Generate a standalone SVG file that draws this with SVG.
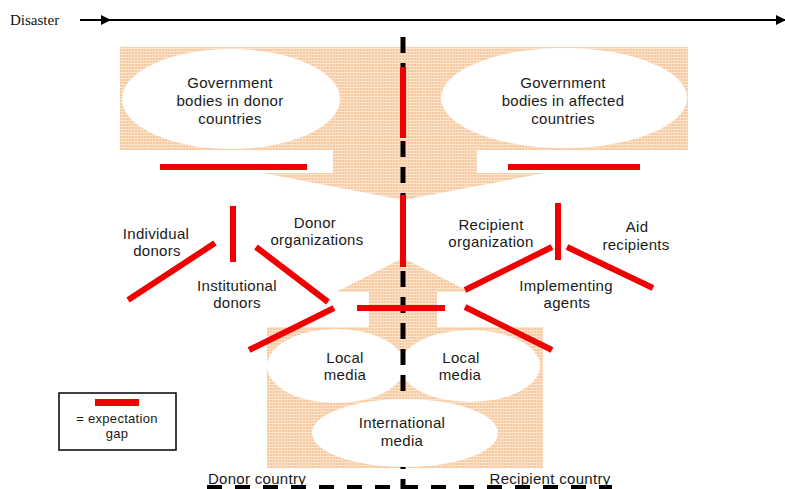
<svg xmlns="http://www.w3.org/2000/svg" width="785" height="489" viewBox="0 0 785 489">
<defs>
<pattern id="dots" width="3" height="3" patternUnits="userSpaceOnUse">
<rect width="3" height="3" fill="#f7c9a0"/>
<rect width="3" height="1" fill="#fde8d4"/>
<rect x="2" width="1" height="3" fill="#fbdcbf"/>
</pattern>
<marker id="arr" markerWidth="10" markerHeight="10" refX="9" refY="5" orient="auto" markerUnits="userSpaceOnUse">
<path d="M0,0 L10,5 L0,10 Z" fill="#000"/>
</marker>
<style>
.lbl{font-family:"Liberation Sans",Arial,sans-serif;font-size:15px;fill:#1a1a1a;text-anchor:middle;letter-spacing:0.3px}
.gap{stroke:#f00000;stroke-width:6;fill:none}
.bg{fill:url(#dots)}
.hole{fill:#fff}
</style>
</defs>
<rect width="785" height="489" fill="#fff"/>

<!-- timeline -->
<g id="timeline">
<text x="10" y="25" font-family="Liberation Serif,Times New Roman,serif" font-size="15" fill="#111">Disaster</text>
<line x1="80" y1="20" x2="110" y2="20" stroke="#000" stroke-width="2" marker-end="url(#arr)"/>
<line x1="108" y1="20" x2="785" y2="20" stroke="#000" stroke-width="2" marker-end="url(#arr)"/>
</g>

<!-- orange backgrounds -->
<g id="areas">
<path class="bg" d="M120,47 H688 V150 H477 V173 H545 L403,200 L263,173 H333 V150 H120 Z"/>
<path class="bg" d="M403,258 L470,292 H437 V327 H543 V468 H267 V327 H369 V292 H336 Z"/>
</g>

<g id="gov-donor">
<ellipse class="hole" cx="231" cy="99" rx="109" ry="50"/>
<text class="lbl" x="230" y="88">Government</text>
<text class="lbl" x="230" y="106">bodies in donor</text>
<text class="lbl" x="230" y="124">countries</text>
</g>
<g id="gov-affected">
<ellipse class="hole" cx="564" cy="98" rx="123" ry="50"/>
<text class="lbl" x="563" y="88">Government</text>
<text class="lbl" x="563" y="106">bodies in affected</text>
<text class="lbl" x="563" y="124">countries</text>
</g>
<g id="local-media-donor">
<ellipse class="hole" cx="336" cy="366" rx="69" ry="37"/>
</g>
<g id="local-media-recipient">
<ellipse class="hole" cx="470" cy="366" rx="70" ry="36"/>
</g>

<!-- dashed dividers -->
<g id="dividers" stroke="#000" fill="none">
<line x1="403" y1="37" x2="403" y2="489" stroke-width="5" stroke-dasharray="16 10"/>
<line x1="207" y1="487" x2="612" y2="487" stroke-width="4" stroke-dasharray="15 13"/>
</g>

<g id="local-media-labels">
<text class="lbl" x="345" y="363">Local</text>
<text class="lbl" x="345" y="380">media</text>
<text class="lbl" x="461" y="363">Local</text>
<text class="lbl" x="460" y="380">media</text>
</g>

<g id="international-media">
<ellipse class="hole" cx="405" cy="433" rx="93" ry="34"/>
<text class="lbl" x="402" y="428">International</text>
<text class="lbl" x="402" y="446">media</text>
</g>

<g id="individual-donors"><text class="lbl" x="156" y="239">Individual</text><text class="lbl" x="157" y="256">donors</text></g>
<g id="donor-organizations"><text class="lbl" x="315" y="228">Donor</text><text class="lbl" x="317" y="245">organizations</text></g>
<g id="institutional-donors"><text class="lbl" x="237" y="291">Institutional</text><text class="lbl" x="237" y="308">donors</text></g>
<g id="recipient-organization"><text class="lbl" x="491" y="230">Recipient</text><text class="lbl" x="491" y="247">organization</text></g>
<g id="aid-recipients"><text class="lbl" x="637" y="232">Aid</text><text class="lbl" x="636" y="250">recipients</text></g>
<g id="implementing-agents"><text class="lbl" x="566" y="291">Implementing</text><text class="lbl" x="567" y="308">agents</text></g>

<g id="country-labels">
<text class="lbl" x="257" y="484">Donor country</text>
<text class="lbl" x="550" y="484">Recipient country</text>
</g>

<!-- expectation gaps -->
<g id="connectors">
<line class="gap" x1="160" y1="167" x2="307" y2="167" stroke-width="5"/>
<line class="gap" x1="508" y1="167" x2="640" y2="167" stroke-width="5"/>
<line class="gap" x1="403" y1="67" x2="403" y2="138"/>
<line class="gap" x1="403" y1="195" x2="403" y2="267"/>
<line class="gap" x1="233" y1="206" x2="233" y2="262"/>
<line class="gap" x1="128" y1="300" x2="215" y2="243"/>
<line class="gap" x1="256" y1="247" x2="328" y2="302"/>
<line class="gap" x1="334" y1="308" x2="249" y2="350"/>
<line class="gap" x1="357" y1="308" x2="445" y2="308"/>
<line class="gap" x1="558" y1="203" x2="558" y2="260"/>
<line class="gap" x1="552" y1="247" x2="465" y2="290"/>
<line class="gap" x1="567" y1="247" x2="653" y2="288"/>
<line class="gap" x1="465" y1="307" x2="552" y2="350"/>
</g>

<g id="legend">
<rect x="59" y="393" width="117" height="57" fill="#fff" stroke="#000" stroke-width="1.5"/>
<rect x="95" y="399" width="44" height="7" fill="#f00000"/>
<text class="lbl" x="117" y="423" style="font-size:13px">= expectation</text>
<text class="lbl" x="117" y="438" style="font-size:13px">gap</text>
</g>
</svg>
